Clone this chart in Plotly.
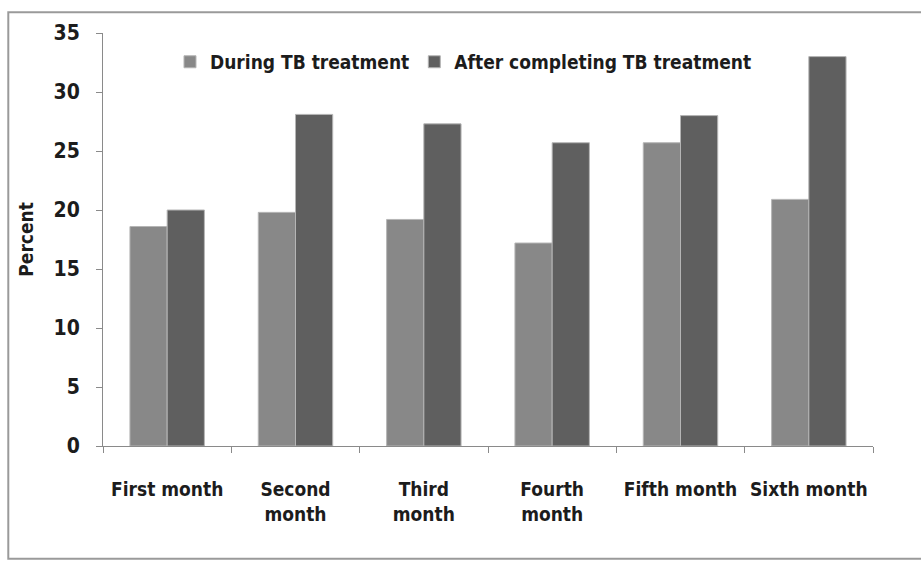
import plotly.graph_objects as go

# Categories and percentages
months = ["First month", "Second<br>month", "Third<br>month",
          "Fourth<br>month", "Fifth month", "Sixth month"]
during_tb = [18.6, 19.8, 19.2, 17.2, 25.7, 20.9]
after_tb = [20.0, 28.1, 27.3, 25.7, 28.0, 33.0]
y_ticks = [0, 5, 10, 15, 20, 25, 30, 35]

FONT = "DejaVu Sans Condensed, Liberation Sans Narrow, sans-serif"
TEXT = "#1c1c1c"

fig = go.Figure()
fig.add_trace(go.Bar(
    x=months, y=during_tb, name="During TB treatment",
    marker=dict(color="#888888", line=dict(color="#b5b5b5", width=1)),
))
fig.add_trace(go.Bar(
    x=months, y=after_tb, name="After completing TB treatment",
    marker=dict(color="#5f5f5f", line=dict(color="#b5b5b5", width=1)),
))

fig.update_layout(
    width=921, height=561,
    margin=dict(l=103, r=48, t=33, b=115, autoexpand=False),
    paper_bgcolor="white", plot_bgcolor="white",
    barmode="group", bargap=0.42, bargroupgap=0,
    font=dict(family=FONT, color=TEXT),
    showlegend=True,
    legend=dict(
        orientation="h", x=0.087, y=0.93, xanchor="left", yanchor="middle",
        font=dict(family=FONT, size=19, color=TEXT, weight="bold"),
        bgcolor="rgba(0,0,0,0)", itemwidth=30,
    ),
    xaxis=dict(
        showline=True, linecolor="#8a8a8a", linewidth=1,
        ticks="outside", tickson="boundaries", ticklen=6, tickcolor="#8a8a8a",
        tickfont=dict(family=FONT, size=19, color=TEXT, weight="bold"),
        tickangle=0, automargin=False,
        ticklabelstandoff=26, showgrid=False, zeroline=False,
    ),
    yaxis=dict(
        range=[0, 35], tickvals=y_ticks, automargin=False,
        showline=True, linecolor="#8a8a8a", linewidth=1,
        ticks="outside", ticklen=6, tickcolor="#8a8a8a",
        tickfont=dict(family=FONT, size=21, color=TEXT, weight="bold"),
        ticklabelstandoff=12, showgrid=False, zeroline=False,
    ),
    annotations=[dict(
        text="Percent", textangle=-90, xref="paper", yref="paper",
        x=-0.101, y=0.50, xanchor="center", yanchor="middle", showarrow=False,
        font=dict(family=FONT, size=19, color=TEXT, weight="bold"),
    )],
    shapes=[dict(
        type="rect", xref="paper", yref="paper",
        x0=-0.123, x1=1.1, y0=-0.273, y1=1.05,
        line=dict(color="#9a9a9a", width=2),
    )],
)

fig.write_html("out.html")
